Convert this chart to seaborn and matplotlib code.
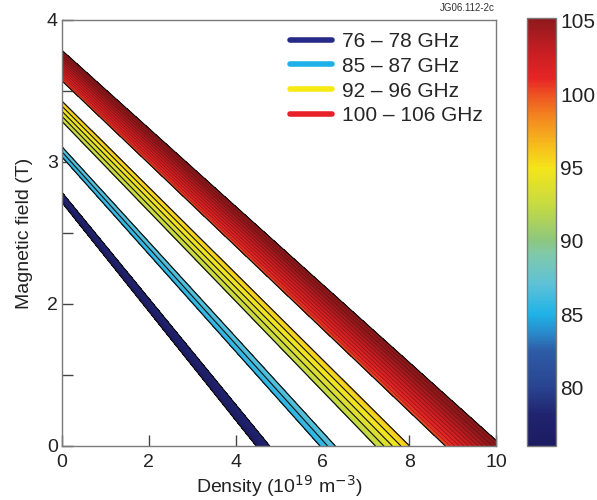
import numpy as np
import matplotlib
matplotlib.use("Agg")
import matplotlib.pyplot as plt
from matplotlib.colors import LinearSegmentedColormap, Normalize
from matplotlib.lines import Line2D
import seaborn as sns

sns.set_style("ticks")
plt.rcParams["font.family"] = ["Liberation Sans", "DejaVu Sans"]

# Frequency bands (GHz) shown as filled contour strips
band_lo = [76, 85, 92, 100]
band_hi = [78, 87, 96, 106]
band_labels = ["76 \u2013 78 GHz", "85 \u2013 87 GHz", "92 \u2013 96 GHz", "100 \u2013 106 GHz"]
band_colors = ["#262a86", "#1fb0e8", "#f7ea14", "#e8202a"]
band_fill_step = [0.25, 0.25, 0.25, 0.25]
band_line_step = [2.0, 1.0, 1.0, 0.5]

# Plasma constants: electron cyclotron frequency per tesla (GHz/T)
# and plasma frequency squared per 1e19 m^-3 (GHz^2)
fce_per_tesla = 28.0
fpe2_per_density = 815.0

# Axis ranges and ticks
density_range = [0.0, 10.0]
field_range = [1.0, 4.0]
x_ticks = [0, 2, 4, 6, 8, 10]
y_ticks = [1, 2, 3, 4]
y_tick_labels = ["0", "2", "3", "4"]
y_minor_ticks = [1.5, 2.5, 3.5]
cbar_ticks = [80, 85, 90, 95, 100, 105]
cbar_range = [76.0, 105.2]

# Colour scale for frequency
cmap = LinearSegmentedColormap.from_list(
    "ece",
    [
        (0.00, "#1c1b62"),
        (0.07, "#20236e"),
        (0.14, "#2a4592"),
        (0.22, "#2d5ba6"),
        (0.26, "#2a86c8"),
        (0.308, "#1fb3e8"),
        (0.38, "#5fc2d6"),
        (0.45, "#80c9a8"),
        (0.48, "#8cc77e"),
        (0.56, "#c4da44"),
        (0.65, "#f5e51a"),
        (0.70, "#f6bf1d"),
        (0.77, "#f3861f"),
        (0.82, "#ee5523"),
        (0.86, "#e62525"),
        (0.92, "#c81e23"),
        (1.00, "#8e191c"),
    ],
)
norm = Normalize(vmin=cbar_range[0], vmax=cbar_range[1])

# Right-hand X-mode cutoff frequency over the (density, field) plane
n = np.linspace(density_range[0], density_range[1], 900)
b = np.linspace(field_range[0], field_range[1], 700)
N, B = np.meshgrid(n, b)
fce = fce_per_tesla * B
F = 0.5 * (fce + np.sqrt(fce ** 2 + 4.0 * fpe2_per_density * N))

fig = plt.figure(figsize=(5.97, 5.0), dpi=100)
ax = fig.add_axes([62 / 597, 54 / 500, 434 / 597, 426 / 500])
cax = fig.add_axes([527 / 597, 54 / 500, 29 / 597, 428 / 500])

for lo, hi, fs, ls in zip(band_lo, band_hi, band_fill_step, band_line_step):
    fill_levels = np.arange(lo, hi + 1e-6, fs)
    ax.contourf(N, B, F, levels=fill_levels, cmap=cmap, norm=norm)
    inner = np.arange(lo + ls, hi - 1e-6, ls)
    if len(inner):
        if hi - lo >= 6:
            ax.contour(N, B, F, levels=inner, colors="#4a0606", linewidths=0.6, alpha=0.45)
        else:
            ax.contour(N, B, F, levels=inner, colors="#111111", linewidths=0.8)
    ax.contour(N, B, F, levels=[lo, hi], colors="#111111", linewidths=0.9)

ax.set_xlim(density_range)
ax.set_ylim(field_range)
ax.set_xticks(x_ticks)
ax.set_yticks(y_ticks)
ax.set_yticklabels(y_tick_labels)
ax.set_yticks(y_minor_ticks, minor=True)
ax.tick_params(axis="both", which="both", direction="in", length=8, width=1,
               color="#444444", labelsize=14, labelcolor="#222222",
               bottom=True, left=True, top=False, right=False)
ax.tick_params(axis="x", which="minor", bottom=False)
ax.tick_params(axis="x", pad=6)
ax.tick_params(axis="y", pad=3)
for s in ax.spines.values():
    s.set_visible(True)
    s.set_color("#7a7a7a")
    s.set_linewidth(1.0)

ax.set_xlabel("Density (10$^{19}$ m$^{-3}$)", fontsize=14, color="#222222", labelpad=1)
ax.set_ylabel("Magnetic field (T)", fontsize=14, color="#222222", labelpad=10)

handles = [Line2D([0], [0], color=c, lw=4) for c in band_colors]
ax.legend(handles, band_labels, loc="upper left", bbox_to_anchor=(0.525, 0.972),
          frameon=False, fontsize=15, handlelength=2.0, handletextpad=0.5,
          labelspacing=0.28, borderpad=0, borderaxespad=0)

fig.text(495 / 597, 1 - 8 / 500, "JG06.112-2c", fontsize=7, ha="right", va="center",
         color="#333333")

sm = plt.cm.ScalarMappable(norm=norm, cmap=cmap)
cb = fig.colorbar(sm, cax=cax, ticks=cbar_ticks)
cb.outline.set_edgecolor("#7a7a7a")
cb.outline.set_linewidth(1.0)
cax.tick_params(direction="in", length=11, width=1, color="#333333",
                labelsize=15, labelcolor="#222222", pad=3, right=True, left=False)

fig.savefig("out.png", dpi=100)
